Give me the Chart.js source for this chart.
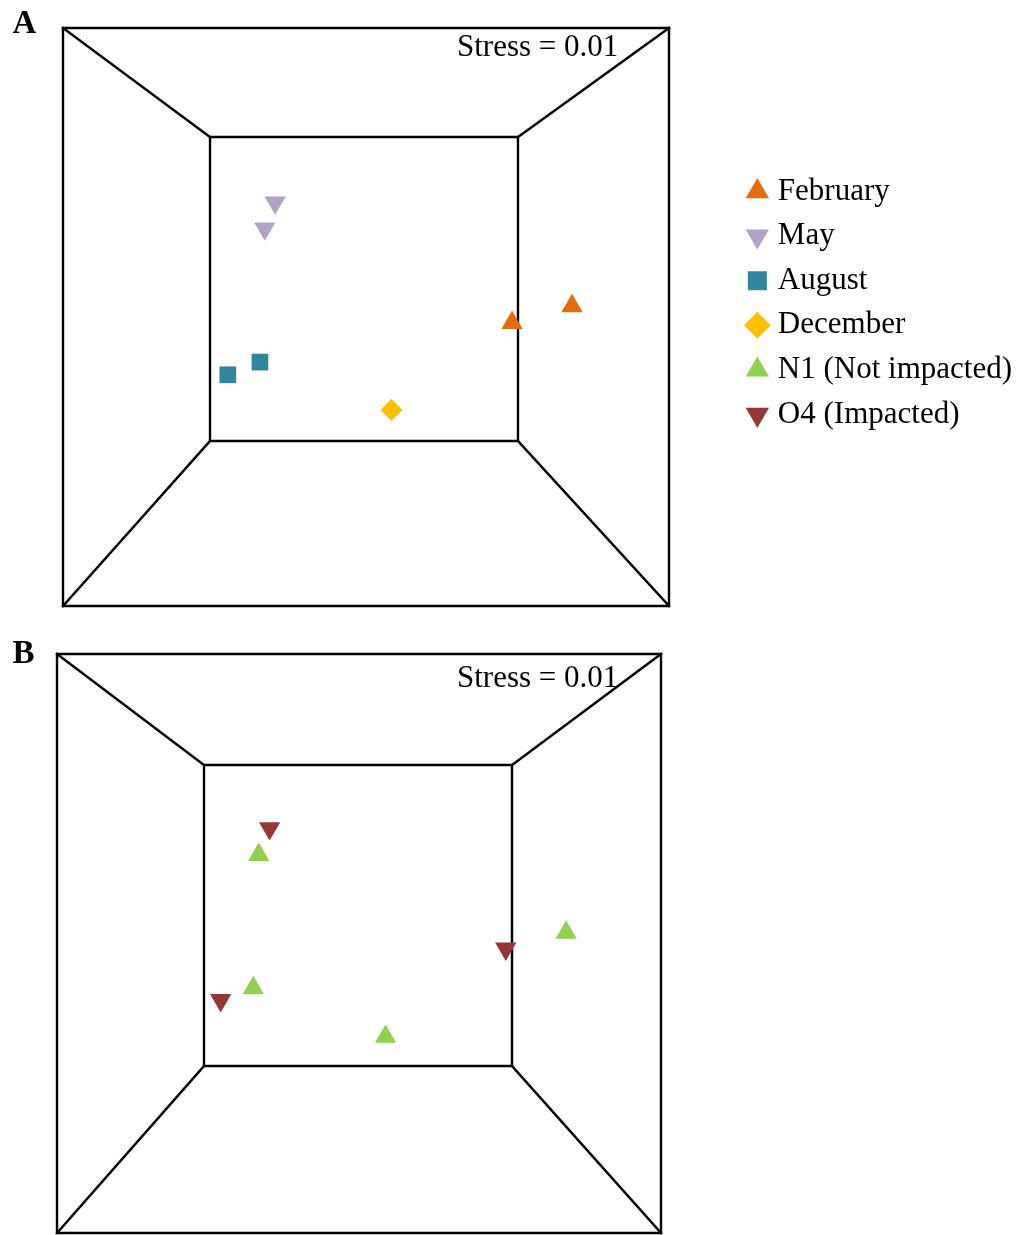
<!DOCTYPE html>
<html>
<head>
<meta charset="utf-8">
<title>NMDS ordination</title>
<script src="https://cdn.jsdelivr.net/npm/chart.js@4.4.1/dist/chart.umd.min.js"></script>
<style>
  html, body { margin: 0; padding: 0; background: #ffffff; }
  #wrap { position: relative; width: 1027px; height: 1235px; }
  #wrap canvas { position: absolute; left: 0; }
  #panelA { top: 0; }
  #panelB { top: 620px; }
</style>
</head>
<body>
<div id="wrap">
  <canvas id="panelA" width="1027" height="620"></canvas>
  <canvas id="panelB" width="1027" height="615"></canvas>
</div>
<script>
// NMDS scores on a 0–100 frame scale (x: left→right, y: bottom→top)
// Panel A – sampling months
const febX = [84.0, 74.1];
const febY = [51.9, 49.0];
const mayX = [35.0, 33.3];
const mayY = [69.8, 65.3];
const augX = [27.2, 32.5];
const augY = [40.0, 42.2];
const decX = [54.2];
const decY = [33.9];

// Panel B – sites
const n1X = [33.4, 32.5, 54.4, 84.3];
const n1Y = [65.3, 42.3, 33.9, 51.9];
const o4X = [35.2, 27.1, 74.3];
const o4Y = [69.9, 40.2, 49.1];

const legendLabels = ['February', 'May', 'August', 'December', 'N1 (Not impacted)', 'O4 (Impacted)'];
const panelLetters = ['A', 'B'];
const stressLabels = ['Stress = 0.01', 'Stress = 0.01'];

// marker appearance per group
const STYLE = {
  'February':          { color: '#E46C0A', shape: 'triangle', rot: 0,   r: 12.3 },
  'May':               { color: '#B3A2C7', shape: 'triangle', rot: 180, r: 12.3 },
  'August':            { color: '#31859C', shape: 'rect',     rot: 0,   r: 11.8 },
  'December':          { color: '#FFC000', shape: 'rectRot',  rot: 0,   r: 11 },
  'N1 (Not impacted)': { color: '#92D050', shape: 'triangle', rot: 0,   r: 12.3 },
  'O4 (Impacted)':     { color: '#953735', shape: 'triangle', rot: 180, r: 12.3 }
};

// back wall of the pseudo-3D ordination box, in frame units
const backWallA = { left: 24.26, right: 75.08, bottom: 28.55, top: 81.14 };
const backWallB = { left: 24.34, right: 75.33, bottom: 28.84, top: 80.83 };

const SERIF = '"Liberation Serif", "Times New Roman", serif';

function zip(xs, ys) { return xs.map((x, i) => ({ x: x, y: ys[i] })); }

function pointSet(name, xs, ys) {
  const s = STYLE[name];
  return {
    type: 'scatter',
    label: name,
    data: zip(xs, ys),
    pointStyle: s.shape,
    rotation: s.rot,
    pointRadius: s.r,
    pointHoverRadius: s.r,
    backgroundColor: s.color,
    borderColor: s.color,
    borderWidth: 0,
    pointBorderWidth: 0,
    showLine: false,
    clip: false
  };
}

function frameSets(w) {
  const segs = [
    [[0, 0], [100, 0], [100, 100], [0, 100], [0, 0]],
    [[w.left, w.bottom], [w.right, w.bottom], [w.right, w.top], [w.left, w.top], [w.left, w.bottom]],
    [[0, 100], [w.left, w.top]],
    [[100, 100], [w.right, w.top]],
    [[0, 0], [w.left, w.bottom]],
    [[100, 0], [w.right, w.bottom]]
  ];
  return segs.map(seg => ({
    type: 'scatter',
    label: '',
    data: seg.map(p => ({ x: p[0], y: p[1] })),
    showLine: true,
    borderColor: '#000000',
    borderWidth: 2.4,
    borderJoinStyle: 'miter',
    borderCapStyle: 'square',
    pointRadius: 0,
    pointHoverRadius: 0,
    tension: 0,
    clip: false
  }));
}

// panel letter and stress value
const panelText = {
  id: 'panelText',
  afterDraw(chart, args, o) {
    const ctx = chart.ctx;
    ctx.save();
    ctx.fillStyle = '#000000';
    ctx.textAlign = 'left';
    ctx.textBaseline = 'alphabetic';
    ctx.font = 'bold 33px ' + SERIF;
    ctx.fillText(o.letter, o.letterX, o.letterY);
    ctx.font = '31px ' + SERIF;
    ctx.fillText(o.stress, o.stressX, o.stressY);
    ctx.restore();
  }
};

const hiddenAxis = { display: false, type: 'linear', min: 0, max: 100 };
const FRAME_A_RIGHT = 669;
const PAD_A_RIGHT = 5;

new Chart(document.getElementById('panelA'), {
  type: 'scatter',
  data: {
    datasets: [
      pointSet('February', febX, febY),
      pointSet('May', mayX, mayY),
      pointSet('August', augX, augY),
      pointSet('December', decX, decY),
      ...frameSets(backWallA)
    ]
  },
  options: {
    responsive: false,
    animation: false,
    events: [],
    layout: { autoPadding: false, padding: { left: 63, right: PAD_A_RIGHT, top: 0, bottom: 14 } },
    scales: {
      x: hiddenAxis,
      y: hiddenAxis,
      xTop: {
        type: 'linear', position: 'top', display: true,
        ticks: { display: false }, grid: { display: false, drawTicks: false }, border: { display: false },
        afterFit(s) { s.height = 28; }
      },
      // empty strip between the plot frame and the legend
      yGap: {
        type: 'linear', position: 'right', display: false,
        afterFit(s) {
          const lg = s.chart.legend;
          s.width = Math.max(0, s.chart.width - PAD_A_RIGHT - (lg ? lg.width : 0) - FRAME_A_RIGHT);
        }
      }
    },
    plugins: {
      tooltip: { enabled: false },
      legend: {
        display: true,
        position: 'right',
        align: 'center',
        labels: {
          usePointStyle: true,
          boxWidth: 10,
          boxHeight: 19,
          padding: 13.6,
          color: '#000000',
          font: { family: SERIF, size: 31 },
          generateLabels: () => legendLabels.map(name => ({
            text: name,
            fillStyle: STYLE[name].color,
            strokeStyle: STYLE[name].color,
            lineWidth: 0,
            pointStyle: STYLE[name].shape,
            rotation: STYLE[name].rot,
            hidden: false,
            fontColor: '#000000'
          }))
        }
      },
      panelText: { letter: panelLetters[0], letterX: 12.5, letterY: 32.5, stress: stressLabels[0], stressX: 457, stressY: 56 }
    }
  },
  plugins: [panelText]
});

new Chart(document.getElementById('panelB'), {
  type: 'scatter',
  data: {
    datasets: [
      pointSet('N1 (Not impacted)', n1X, n1Y),
      pointSet('O4 (Impacted)', o4X, o4Y),
      ...frameSets(backWallB)
    ]
  },
  options: {
    responsive: false,
    animation: false,
    events: [],
    layout: { autoPadding: false, padding: { left: 57, right: 366, top: 34, bottom: 2 } },
    scales: { x: hiddenAxis, y: hiddenAxis },
    plugins: {
      tooltip: { enabled: false },
      legend: { display: false },
      panelText: { letter: panelLetters[1], letterX: 12.5, letterY: 43.3, stress: stressLabels[1], stressX: 457, stressY: 67 }
    }
  },
  plugins: [panelText]
});
</script>
</body>
</html>
